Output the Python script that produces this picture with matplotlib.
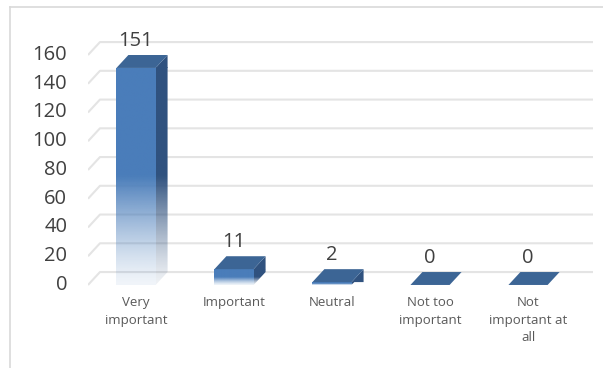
import numpy as np
import matplotlib.pyplot as plt
from matplotlib.patches import Polygon
from matplotlib.lines import Line2D
from matplotlib.colors import to_rgb

# Survey answers
categories = ["Very\nimportant", "Important", "Neutral", "Not too\nimportant", "Not\nimportant at\nall"]
counts = [151, 11, 2, 0, 0]
yticks = [0, 20, 40, 60, 80, 100, 120, 140, 160]

plt.rcParams['font.family'] = ['Open Sans', 'DejaVu Sans']

W, H = 603, 368
fig = plt.figure(figsize=(W / 100, H / 100), dpi=100)
ax = fig.add_axes([88 / W, 1 - 290 / H, (593 - 88) / W, (290 - 30) / H])
ax.axis('off')

XMIN, XMAX = -0.49, 4.663
YMIN, YMAX = -3.5, 177.4
HALF = 0.2      # half width of a bar front
DX, DY = 0.122, 9.0   # 3d depth offset

front_col = '#4a7dba'
top_col = '#3c6595'
side_col = '#30527f'

# back-wall gridlines with the little diagonal on the side wall
for t in yticks:
    ax.plot([XMIN, XMIN + DX, XMAX], [t, t + DY, t + DY], color='#e4e4e4', lw=1.5,
            solid_capstyle='butt', zorder=1)
    ax.annotate(str(t), (XMIN, t), xytext=(-15, 0), textcoords='offset points',
                ha='right', va='center', fontsize=14.5, color='#404040')


def faded(color, v, n=200):
    # colour strip that fades toward white in the lower half of the bar
    r = np.linspace(0, 1, n)
    alpha = np.where(r > 0.5, 1.0, 0.08 + 0.92 * (r / 0.5) ** 1.3)
    img = np.zeros((n, 1, 4))
    img[..., :3] = to_rgb(color)
    img[:, 0, 3] = alpha
    return img


for i, v in enumerate(counts):
    l, r = i - HALF, i + HALF
    if v > 0:
        # front face
        front = Polygon([(l, 0), (r, 0), (r, v), (l, v)], closed=True,
                        facecolor='none', edgecolor='none')
        ax.add_patch(front)
        im = ax.imshow(faded(front_col, v), extent=[l, r, 0, v], origin='lower',
                       aspect='auto', zorder=3, interpolation='bilinear')
        im.set_clip_path(front)
        # side face
        side = Polygon([(r, 0), (r, v), (r + DX, v + DY), (r + DX, DY)], closed=True,
                       facecolor='none', edgecolor='none')
        ax.add_patch(side)
        im = ax.imshow(faded(side_col, v), extent=[r, r + DX, 0, v], origin='lower',
                       aspect='auto', zorder=3, interpolation='bilinear')
        im.set_clip_path(side)
        # the side strip above the front top stays solid
        ax.add_patch(Polygon([(r, v), (r + DX, v + DY), (r + DX, v)],
                             closed=True, facecolor=side_col, edgecolor='none', zorder=3))
    # top face
    ax.add_patch(Polygon([(l, v), (r, v), (r + DX, v + DY), (l + DX, v + DY)], closed=True,
                         facecolor=top_col, edgecolor='none', zorder=4))
    ax.annotate(str(v), (i, v + DY), xytext=(0, 10), textcoords='offset points',
                ha='center', va='center', fontsize=14.5, color='#404040')
    ax.annotate(categories[i], (i, 0), xytext=(0, -8), textcoords='offset points',
                ha='center', va='top', fontsize=9.5, color='#595959', linespacing=1.45,
                annotation_clip=False)

ax.set_xlim(XMIN, XMAX)
ax.set_ylim(YMIN, YMAX)

# outer chart frame
fig.add_artist(Line2D([10 / W, 10 / W], [0, 1 - 7 / H], color='#d9d9d9', lw=1.2))
fig.add_artist(Line2D([10 / W, 1], [1 - 7 / H, 1 - 7 / H], color='#d9d9d9', lw=1.2))

fig.savefig('out.png', dpi=100)
